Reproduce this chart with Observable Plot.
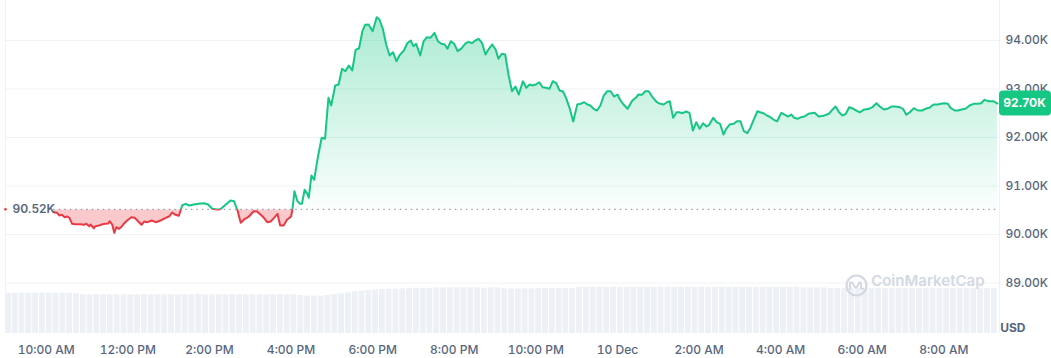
<!DOCTYPE html>
<html><head><meta charset="utf-8">
<script src="https://cdn.jsdelivr.net/npm/d3@7"></script>
<script src="https://cdn.jsdelivr.net/npm/@observablehq/plot@0.6"></script>
<style>
html,body{margin:0;padding:0;background:#fff;}
#chart{position:relative;width:1051px;height:358px;overflow:hidden;}
#chart svg{position:absolute;left:0;top:0;}
</style></head><body><div id="chart"></div>
<script>
// ---- data ----
const startUTC = Date.UTC(2025, 11, 9, 10, 0); // 9 Dec, 10:00 AM
const openPrice = 90520;
const minutes = [11,16,19,23,27,31,34,38,43,50,55,59,63,65,70,72,76,80,83,87,
91,93,97,100,103,107,111,114,119,125,130,135,140,144,149,155,161,168,175,181,
185,190,195,200,205,210,217,224,232,238,244,251,256,264,271,276,281,286,292,298,
305,310,315,320,325,330,335,340,344,349,354,360,362,365,369,373,376,380,384,386,
390,394,399,405,410,415,419,425,430,435,440,445,450,455,460,465,469,474,480,486,
490,495,500,505,510,515,520,526,531,536,540,544,550,555,560,565,571,576,581,586,
590,595,600,605,610,617,621,626,631,636,641,646,651,656,661,665,670,675,680,685,
690,695,701,706,711,715,720,725,730,735,740,745,750,755,760,765,770,775,781,786,
791,796,800,805,810,815,820,825,830,835,840,844,849,855,862,867,871,876,881,886,
891,898,903,908,913,917,922,927,931,936,941,946,951,956,961,966,971,975,981,986,
991,996,1000,1005,1011,1016,1021,1026,1031,1036,1041,1046,1050,1055,1060,1065,1070,1075,1081,1086,
1091,1096,1100,1105,1110,1115,1121,1130,1136,1143,1151,1156,1161,1166,1171,1176,1181,1187,1193,1197,
1202,1210,1215,1221,1226,1232,1237,1243,1249,1255,1260,1265,1270,1276,1282,1288,1293,1299,1305,1311,
1316,1321,1326,1330,1336,1341,1346,1352,1358,1364,1370,1375,1380,1386,1393,1399];
const prices = [90460,90447,90392,90406,90357,90371,90344,90221,90212,90212,
90200,90221,90171,90206,90130,90171,90179,90200,90212,90221,
90227,90274,90206,90035,90150,90118,90165,90221,90289,90357,
90344,90274,90200,90268,90254,90289,90254,90289,90336,90377,
90454,90406,90386,90604,90633,90598,90619,90633,90645,90619,
90530,90515,90522,90619,90701,90687,90509,90241,90324,90371,
90480,90474,90412,90344,90254,90268,90344,90427,90186,90186,
90303,90371,90515,90893,90701,90633,90633,90922,90839,90757,
91217,91128,91561,91994,91973,92819,92660,93072,93093,93417,
93367,93485,93381,93808,93841,94192,94324,94330,94192,94481,
94433,94241,93912,93691,93759,93573,93705,93794,93944,94000,
93883,93932,93691,93986,94068,94056,94159,93986,93932,93918,
93829,93986,93932,93780,93829,93945,93973,93945,94000,94035,
93945,93711,93829,93918,93808,93623,93726,93711,93278,92955,
93052,92887,93161,93025,93093,93072,93093,93140,93037,93025,
93004,93161,93120,92969,92949,92798,92592,92330,92680,92695,
92728,92680,92660,92592,92557,92660,92866,92955,92955,92845,
92887,92777,92680,92592,92763,92819,92887,92880,92955,92955,
92845,92728,92695,92680,92728,92749,92406,92522,92522,92501,
92536,92509,92144,92316,92179,92295,92227,92262,92406,92316,
92283,92062,92179,92268,92283,92336,92336,92130,92089,92212,
92386,92542,92522,92501,92454,92419,92365,92336,92509,92474,
92433,92474,92406,92386,92419,92433,92489,92509,92433,92447,
92489,92571,92639,92522,92454,92489,92625,92592,92542,92522,
92571,92592,92625,92707,92639,92577,92592,92639,92639,92625,
92592,92468,92522,92604,92557,92557,92592,92612,92680,92680,
92695,92707,92695,92612,92557,92557,92577,92592,92660,92695,
92695,92707,92777,92749,92749,92700];
// 24h volume (billions USD), one bar per 10 minutes from 9:00 AM
const volumeStartMinute = -60;
const volumeStepMinutes = 10;
const volume = [
48.4,48.4,48.4,48.4,48.4,48.4,48.4,48.4,48.4,48.4,
47.6,46.4,46.4,46.4,46.4,46.4,46.4,46.4,46.4,46.4,
46.4,46.4,46.4,46.4,46.4,46.4,46.4,46.8,47.2,46.4,
46.4,46.4,46.4,46.4,46.4,46.4,46.4,46.4,46.4,46.4,
46.4,46.4,46.4,45.6,44.8,44.8,44.8,45.6,46.8,47.6,
48.8,50.0,50.8,51.6,52.2,52.8,53.2,53.2,53.6,54.0,
54.2,54.2,54.2,54.8,54.8,54.8,55.2,54.8,54.8,54.8,
54.4,54.8,54.8,53.6,53.6,53.6,53.6,53.6,54.0,54.0,
54.0,54.0,54.0,54.0,55.4,55.4,55.2,55.4,55.4,55.6,
55.4,55.4,55.4,55.2,55.4,55.4,55.4,55.6,55.4,55.4,
55.4,55.2,55.4,55.4,55.4,55.6,55.4,55.4,55.4,55.2,
55.4,55.4,55.4,55.4,55.6,55.4,55.4,54.6,54.6,54.6,
54.6,53.8,53.8,53.8,53.8,53.8,53.8,53.8,53.8,53.8,
53.8,53.8,53.8,53.8,53.8,53.8,53.8,53.8,53.8,53.8,
53.8,53.8,53.8,53.8,53.8,53.8];
const yTicks = [89000, 90000, 91000, 92000, 93000, 94000];
const xTickHours = [0, 2, 4, 6, 8, 10, 12, 14, 16, 18, 20, 22];
const xTickLabels = ["10:00 AM","12:00 PM","2:00 PM","4:00 PM","6:00 PM","8:00 PM","10:00 PM","10 Dec","2:00 AM","4:00 AM","6:00 AM","8:00 AM"];
const xDomainMinutes = [-60, 1402];
const yDomain = [87959, 94825];
const volumeDomain = [0, 60];

// ---- build ----
const W = 1051, H = 358;
const M = {marginLeft: 5, marginRight: 52, marginBottom: 25};
const GREEN = "#16c784", RED = "#ea3943", GRID = "#eff2f5", TXT = "#58667e";
const t = m => new Date(startUTC + m * 60000);
const data = minutes.map((m, i) => ({t: t(m), p: prices[i]}));
const vol = volume.map((v, i) => ({
  t1: t(volumeStartMinute + i * volumeStepMinutes),
  t2: t(volumeStartMinute + (i + 1) * volumeStepMinutes), v}));
const xDomain = xDomainMinutes.map(t);
const fmtK = d => (d / 1000).toFixed(2) + "K";
const lastPrice = prices[prices.length - 1];

const volPlot = Plot.plot({
  width: W, height: H, ...M, marginTop: 283,
  style: {background: "transparent"},
  x: {type: "utc", domain: xDomain, axis: null},
  y: {domain: volumeDomain, axis: null},
  marks: [Plot.rectY(vol, {x1: "t1", x2: "t2", y: "v", fill: "#edf0f4", insetRight: 1})]
});

const price = Plot.plot({
  width: W, height: H, ...M, marginTop: 0,
  style: {background: "transparent", fontFamily: "Inter, sans-serif", fontSize: "12px", color: TXT, fontWeight: 500, overflow: "visible"},
  x: {type: "utc", domain: xDomain},
  y: {domain: yDomain},
  marks: [
    Plot.ruleY(yTicks, {stroke: GRID, strokeWidth: 1}),
    Plot.ruleX(xDomain, {stroke: GRID, strokeWidth: 1}),
    Plot.areaY(data, {x: "t", y1: openPrice, y2: "p", fill: "url(#cmc-up-grad)"}),
    Plot.areaY(data, {x: "t", y1: openPrice, y2: "p", fill: RED, fillOpacity: 0.27}),
    Plot.ruleY([openPrice], {x1: data[0].t, x2: xDomain[1], stroke: "#7d8799", strokeDasharray: "1.5,4"}),
    Plot.lineY(data, {x: "t", y: "p", stroke: GREEN, strokeWidth: 2}),
    Plot.lineY(data, {x: "t", y: "p", stroke: RED, strokeWidth: 2}),
    Plot.dot([openPrice], {x: xDomain[0], y: d => d, r: 1.3, fill: RED}),
    Plot.text([openPrice], {x: xDomain[0], y: d => d, text: fmtK, textAnchor: "start", dx: 7, fontWeight: 600, fill: TXT}),
    Plot.text(["CoinMarketCap"], {frameAnchor: "bottom-right", text: d => d, textAnchor: "end", dx: -15, dy: -48, fontSize: 15, fontWeight: 600, fill: "#d3d9e3"}),
    Plot.dot([0], {frameAnchor: "bottom-right", dx: -143, dy: -48, r: 10, stroke: "#d3d9e3", strokeWidth: 2.2, fill: "none"}),
    Plot.axisX({ticks: xTickHours.map(h => t(h * 60)), tickSize: 0, tickPadding: 12, label: null,
      tickFormat: d => { const i = xTickHours.indexOf(Math.round((d - startUTC) / 3600000)); return i >= 0 ? xTickLabels[i] : ""; }}),
    Plot.axisY({anchor: "right", ticks: yTicks, tickFormat: fmtK, tickSize: 0, tickPadding: 6, label: null}),
    Plot.text(["USD"], {frameAnchor: "bottom-right", text: d => d, dx: 26, dy: -2, fontWeight: 700, fill: TXT})
  ]
});

// gradient + clipping around the opening price
const ys = price.scale("y");
const yb = ys.apply(openPrice);
const yTop = ys.apply(d3.max(prices));
const svg = d3.select(price);
const defs = svg.insert("defs", ":first-child");
const g = defs.append("linearGradient").attr("id", "cmc-up-grad").attr("gradientUnits", "userSpaceOnUse")
  .attr("x1", 0).attr("x2", 0).attr("y1", yTop).attr("y2", yb);
g.append("stop").attr("offset", 0).attr("stop-color", GREEN).attr("stop-opacity", 0.36);
g.append("stop").attr("offset", 1).attr("stop-color", GREEN).attr("stop-opacity", 0.02);
const clip = (id, y0, y1) => defs.append("clipPath").attr("id", id).append("rect")
  .attr("x", 0).attr("y", y0).attr("width", W).attr("height", y1 - y0);
clip("cmc-clip-up", 0, yb);
clip("cmc-clip-up-area", 0, yb - 0.6);
clip("cmc-clip-down", yb, H);
clip("cmc-clip-down-area", yb + 0.6, H);
const areas = price.querySelectorAll('g[aria-label="area"]');
const lines = price.querySelectorAll('g[aria-label="line"]');
areas[0].setAttribute("clip-path", "url(#cmc-clip-up-area)");
areas[1].setAttribute("clip-path", "url(#cmc-clip-down-area)");
lines[0].setAttribute("clip-path", "url(#cmc-clip-up)");
lines[1].setAttribute("clip-path", "url(#cmc-clip-down)");

// logo wave inside the watermark ring
const ringCx = W - M.marginRight - 143, ringCy = H - M.marginBottom - 48;
svg.append("path").attr("transform", `translate(${ringCx},${ringCy})`)
  .attr("d", "M-6,4 L-6,-1 Q-6,-4 -3.5,-2 L-1,2 Q0,3 1,2 L3,-2 Q4.5,-4 5,-1 L5,3 Q5.5,4.5 7,3.5")
  .attr("fill", "none").attr("stroke", "#d3d9e3").attr("stroke-width", 2).attr("stroke-linecap", "round").attr("stroke-linejoin", "round");

// last price tag
const yl = ys.apply(lastPrice);
const xr = W - M.marginRight;
const tag = svg.append("g");
tag.append("rect").attr("x", xr).attr("y", yl - 12.5).attr("width", W - xr).attr("height", 25).attr("rx", 4).attr("fill", GREEN);
tag.append("text").attr("x", xr + 25.5).attr("y", yl).attr("dy", "0.35em").attr("text-anchor", "middle")
  .attr("fill", "#fff").attr("font-weight", 700).attr("font-size", 12).text(fmtK(lastPrice));

const chart = document.getElementById("chart");
chart.append(volPlot);
chart.append(price);
</script></body></html>
